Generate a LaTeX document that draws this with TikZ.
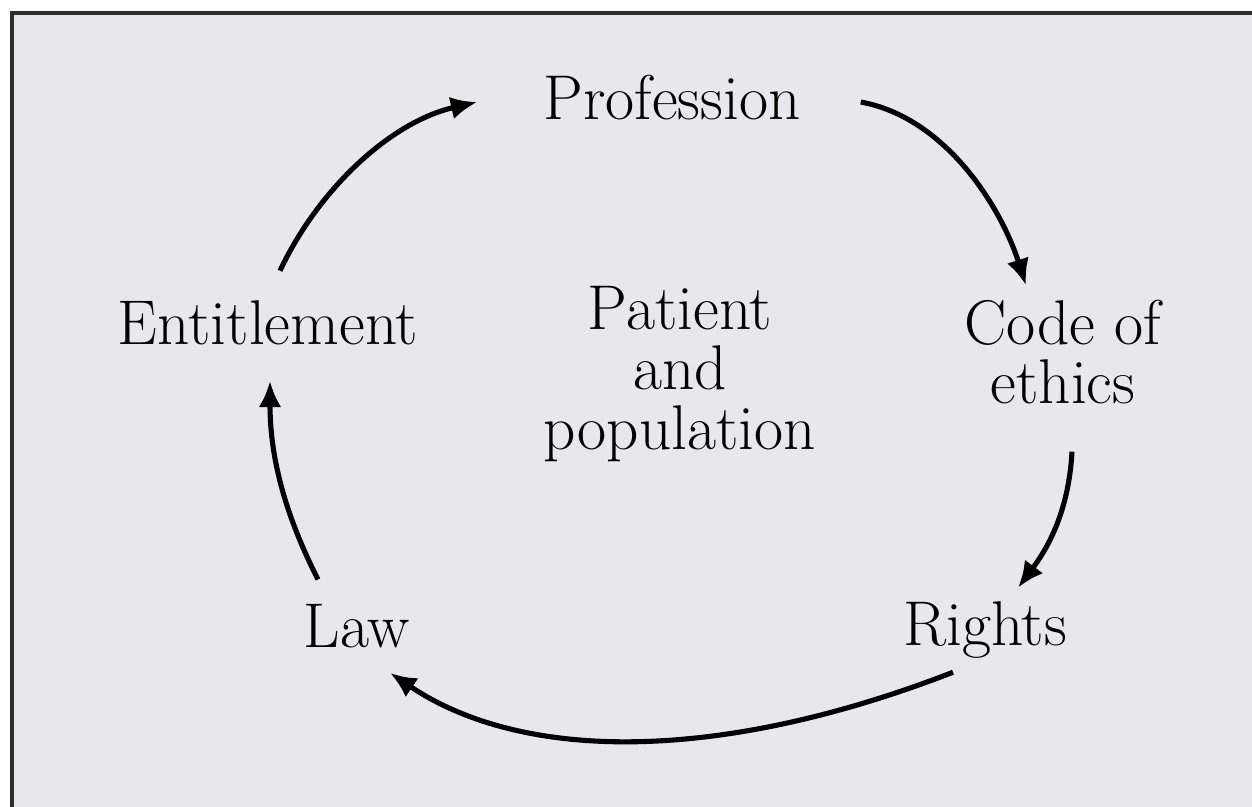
\documentclass[tikz,border=0pt]{standalone}
\usepackage{xcolor}
\usepackage{tikz}
\usetikzlibrary{positioning,calc,arrows.meta}
\definecolor{paper}{RGB}{231,231,236}
\definecolor{frameline}{RGB}{45,45,45}

\begin{document}
\begin{tikzpicture}[x=0.02cm, y=-0.02cm,
    term/.style={inner sep=0pt, font=\fontsize{36}{34}\selectfont},
    cycarrow/.style={draw, line width=2.9pt, -{Latex[length=15pt,width=13pt]}}]
    \useasboundingbox (0,0) rectangle (1252,807);
    \fill[paper] (12,13) rectangle (1252,807);
    \draw[frameline, line width=1.8pt] (12,807) -- (12,13) -- (1252,13);

    \node[term, anchor=base] (prof) at (672,120) {Profession};
    \node[term, anchor=base] (ent) at (268,345) {Entitlement};
    \node[term, align=center] (code) at (1063,352) {Code of\\ethics};
    \node[term, anchor=base] (rights) at (985,645) {Rights};
    \node[term, anchor=base] (law) at (357,647) {Law};
    \node[term, align=center] (pat) at (680,374) {Patient\\and\\population};

    \draw[cycarrow] ([shift={(12,-30)}]ent.north) .. controls +(38,-81) and +(-87,20) .. ([shift={(-66,4)}]prof.west);
    \draw[cycarrow] ([shift={(60,4)}]prof.east) .. controls +(83,15) and +(-26,-81) .. ([shift={(-37,-14)}]code.north);
    \draw[cycarrow] ([shift={(9,47)}]code.south) .. controls +(-3,55) and +(33,-44) .. ([shift={(33,-13)}]rights.north);
    \draw[cycarrow] ([shift={(-32,14)}]rights.south) .. controls +(-232,90) and +(134,90) .. ([shift={(33,25)}]law.south);
    \draw[cycarrow] ([shift={(-39,-24)}]law.north) .. controls +(-34,-67) and +(0,75) .. ([shift={(2,35)}]ent.south);
\end{tikzpicture}
\end{document}
